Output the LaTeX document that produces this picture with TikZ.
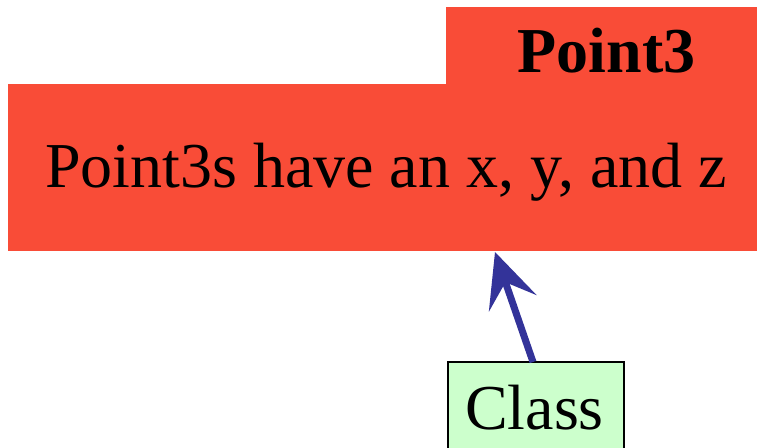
\documentclass[tikz,border=0pt]{standalone}
\usepackage{fontspec}
\setmainfont{Liberation Serif}
\usetikzlibrary{arrows.meta}
\definecolor{boxred}{HTML}{F94C37}
\definecolor{boxgreen}{HTML}{CCFFCC}
\definecolor{arrowblue}{HTML}{333399}
\begin{document}
\begin{tikzpicture}[x=1pt,y=-1pt,
  redbox/.style={fill=boxred,draw=none,inner sep=0pt,outer sep=0pt},
  bigtext/.style={font=\fontsize{64}{68}\selectfont,inner sep=0pt,anchor=base},
  inherit/.style={draw=arrowblue,line width=7pt,-{Stealth[length=54pt,width=50pt,inset=22pt]}}]
\useasboundingbox (0,0) rectangle (759,447);
\clip (0,0) rectangle (759,447);
\node[redbox,minimum width=311pt,minimum height=77pt] (tab) at (601.5,45.5) {};
\node[redbox,minimum width=749pt,minimum height=167pt] (body) at (382.5,167.5) {};
\node[bigtext,font=\fontsize{64}{68}\selectfont\bfseries] (title) at (606.5,72) {Point3};
\node[bigtext] (desc) at (386,187) {Point3s have an x, y, and z};
\node[draw=black,line width=1.5pt,fill=boxgreen,minimum width=176pt,minimum height=100pt,inner sep=0pt,anchor=north west] (cls) at (447,361) {};
\node[bigtext] (clstext) at (534.5,429) {Class};
\coordinate (tail) at (533,362);
\coordinate (tip) at (495,252);
\draw[inherit] (tail) -- (tip);
\end{tikzpicture}
\end{document}
